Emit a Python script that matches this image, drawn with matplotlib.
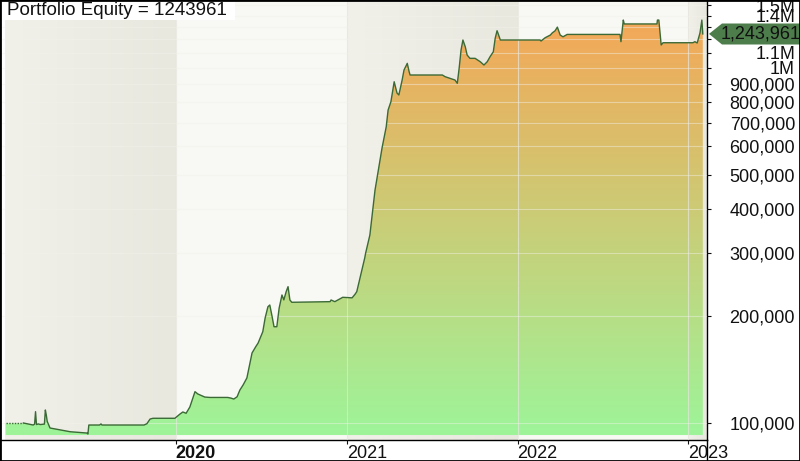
import numpy as np
import pandas as pd
import matplotlib
matplotlib.use("Agg")
import matplotlib.pyplot as plt
import matplotlib.dates as mdates
from matplotlib.colors import LinearSegmentedColormap
from matplotlib.patches import Polygon, Rectangle
from matplotlib.lines import Line2D
from matplotlib.ticker import NullLocator

plt.rcParams["font.family"] = ["Liberation Sans", "DejaVu Sans"]

# equity curve, values
dates = [
    "2019-01-02", "2019-02-09", "2019-02-19", "2019-03-02", "2019-03-05", "2019-03-07",
    "2019-03-09", "2019-03-13", "2019-03-17", "2019-03-26", "2019-03-28", "2019-03-30",
    "2019-04-01", "2019-04-07", "2019-04-18", "2019-04-29", "2019-05-20", "2019-06-10",
    "2019-06-25", "2019-06-27", "2019-06-29", "2019-07-22", "2019-07-25", "2019-07-27",
    "2019-10-25", "2019-10-31", "2019-11-07", "2019-11-13", "2019-12-30", "2020-01-10",
    "2020-01-16", "2020-01-23", "2020-01-31", "2020-02-05", "2020-02-11", "2020-02-17",
    "2020-03-03", "2020-03-14", "2020-04-21", "2020-04-28", "2020-05-04", "2020-05-11",
    "2020-05-17", "2020-05-24", "2020-06-01", "2020-06-12", "2020-06-20", "2020-06-25",
    "2020-07-05", "2020-07-10", "2020-07-16", "2020-07-20", "2020-07-25", "2020-07-29",
    "2020-08-04", "2020-08-09", "2020-08-15", "2020-08-19", "2020-08-24", "2020-08-28",
    "2020-09-01", "2020-09-05", "2020-11-26", "2020-11-28", "2020-12-06", "2020-12-23",
    "2021-01-12", "2021-01-18", "2021-01-22", "2021-01-29", "2021-02-02", "2021-02-08",
    "2021-02-10", "2021-02-19", "2021-03-02", "2021-03-11", "2021-03-17", "2021-03-26",
    "2021-03-30", "2021-04-05", "2021-04-12", "2021-04-18", "2021-04-22", "2021-04-29",
    "2021-05-03", "2021-05-10", "2021-05-14", "2021-05-16", "2021-07-24", "2021-07-30",
    "2021-08-20", "2021-08-25", "2021-08-29", "2021-09-02", "2021-09-06", "2021-09-11",
    "2021-09-15", "2021-09-21", "2021-10-02", "2021-10-13", "2021-10-21", "2021-10-28",
    "2021-11-03", "2021-11-10", "2021-11-14", "2021-11-18", "2021-11-20", "2021-11-25",
    "2022-02-18", "2022-02-20", "2022-03-01", "2022-03-12", "2022-03-16", "2022-03-22",
    "2022-03-27", "2022-04-02", "2022-04-08", "2022-04-17", "2022-04-23", "2022-08-08",
    "2022-08-10", "2022-08-15", "2022-08-17", "2022-10-26", "2022-10-27", "2022-10-30",
    "2022-11-04", "2022-11-08", "2023-01-11", "2023-01-15", "2023-01-20", "2023-01-26",
    "2023-01-30", "2023-02-01",
]
equity = [
    100000, 100000, 99400, 98700, 99300, 107600,
    99000, 99400, 99000, 99300, 108800, 105300,
    101000, 96800, 96200, 95600, 94500, 94000,
    93700, 93100, 98700, 98700, 99400, 98700,
    98700, 99500, 102600, 103100, 103100, 106000,
    107400, 106500, 110900, 116100, 122500, 120700,
    118300, 118000, 118000, 117500, 116800, 118500,
    123800, 128000, 133900, 157400, 164000, 167900,
    180700, 197400, 212400, 214800, 199100, 186600,
    186600, 210600, 229200, 222000, 234200, 241900,
    221900, 218600, 219500, 221900, 219500, 225800,
    225000, 230000, 234200, 255900, 269500, 291300,
    300800, 338000, 452000, 532000, 593900, 681800,
    759800, 801700, 912600, 848400, 837500, 922800,
    984500, 1028000, 973800, 953300, 953300, 942800,
    922800, 903400, 997500, 1121000, 1196000, 1145000,
    1085000, 1062000, 1062000, 1039000, 1017000, 1039000,
    1073000, 1108000, 1209000, 1270000, 1250000, 1196000,
    1196000, 1188000, 1214000, 1235000, 1252000, 1269000,
    1300000, 1235000, 1221000, 1240000, 1240000, 1240000,
    1183000, 1361000, 1327000, 1327000, 1361000, 1361000,
    1158000, 1175000, 1175000, 1183000, 1173000, 1252000,
    1361000, 1243961,
]

band_years = [2019, 2020, 2021, 2022, 2023]
year_ticks = ["2020-01-01", "2021-01-01", "2022-01-01", "2023-01-01"]
year_labels = ["2020", "2021", "2022", "2023"]
y_ticks = [100000, 200000, 300000, 400000, 500000, 600000, 700000, 800000, 900000,
           1000000, 1100000, 1200000, 1300000, 1400000, 1500000]
# 1.2M and 1.3M sit under the last-value marker, so they show no text
y_labels = ["100,000", "200,000", "300,000", "400,000", "500,000", "600,000", "700,000",
            "800,000", "900,000", "1M", "1.1M", "", "", "1.4M", "1.5M"]
title = "Portfolio Equity = 1243961"
last_value = 1243961
last_label = "1,243,961"

W, H = 800, 461
x_start = mdates.date2num(pd.Timestamp("2018-12-21"))
x_end = mdates.date2num(pd.Timestamp("2023-02-10"))
y_bottom, y_top = 89567, 1549800
base = 92500

fig = plt.figure(figsize=(W / 100, H / 100), dpi=100)
rect = [0, 21 / H, 707 / W, 440 / H]

# background year bands (linear helper axes underneath)
bg = fig.add_axes(rect)
bg.set_zorder(0)
bg.axis("off")
for i, yr in enumerate(band_years):
    a = max(mdates.date2num(pd.Timestamp(f"{yr}-01-01")), x_start)
    b = min(mdates.date2num(pd.Timestamp(f"{yr + 1}-01-01")), x_end)
    if i % 2 == 0:
        cm = LinearSegmentedColormap.from_list("band", ["#f1f0e9", "#e9e8df"])
        bg.imshow(np.linspace(0, 1, 64).reshape(1, -1), cmap=cm, aspect="auto",
                  extent=[a, b, 0, 1], interpolation="bilinear")
    else:
        bg.axvspan(a, b, color="#f8f8f4", lw=0)
bg.set_xlim(x_start, x_end)
bg.set_ylim(0, 1)

ax = fig.add_axes(rect)
ax.set_zorder(1)
ax.patch.set_visible(False)
ax.set_yscale("log")

xnum = mdates.date2num(pd.to_datetime(dates))

# gradient fill under the curve
fill = ax.fill_between(xnum, equity, base, facecolor="none", edgecolor="none")
cmap = LinearSegmentedColormap.from_list("eq", ["#9df59a", "#f8a454"])
im = ax.imshow(np.linspace(0, 1, 256).reshape(-1, 1), cmap=cmap, origin="lower",
               aspect="auto", extent=[0, 1, 0, 1], transform=ax.transAxes, zorder=1)
im.set_clip_path(fill.get_paths()[0], transform=ax.transData)

ax.plot(xnum[:2], equity[:2], color="#3b6a36", lw=1, ls=(0, (1, 1)), zorder=3)
ax.plot(xnum[1:], equity[1:], color="#3b6a36", lw=1, zorder=3)

ax.set_xlim(x_start, x_end)
ax.set_ylim(y_bottom, y_top)

ax.set_yticks(y_ticks)
ax.set_yticklabels(y_labels)
ax.yaxis.set_minor_locator(NullLocator())
ax.yaxis.tick_right()
ax.set_xticks(mdates.date2num(pd.to_datetime(year_ticks)))
ax.set_xticklabels(year_labels)
ax.set_axisbelow(False)
ax.grid(axis="y", color="#f2f2ec", lw=0.8, alpha=0.45)
ax.grid(axis="x", color="#e6e6de", lw=0.8, alpha=0.7)

ax.tick_params(axis="y", direction="out", length=3, pad=60.4, labelsize=13,
               colors="#111111")
ax.tick_params(axis="x", direction="out", length=3, pad=0.5, labelsize=13,
               colors="#111111")
for lab in ax.get_yticklabels():
    lab.set_horizontalalignment("right")
for lab in ax.get_xticklabels():
    lab.set_horizontalalignment("left")
ax.get_xticklabels()[0].set_fontweight("bold")

for s in ["top", "left"]:
    ax.spines[s].set_visible(False)
for s in ["bottom", "right"]:
    ax.spines[s].set_color("black")
    ax.spines[s].set_linewidth(1)

# title box
fig.add_artist(Rectangle((0, 1 - 20 / H), 235 / W, 20 / H, transform=fig.transFigure,
                         facecolor="white", edgecolor="none", zorder=5))
fig.text(7 / W, 1 - 10.5 / H, title, ha="left", va="center", fontsize=13.5,
         color="#111111", zorder=6)

# last value marker
ym = 33.9
pts = [(709, ym), (722, 23.5), (800, 23.5), (800, 44.5), (722, 44.5)]
fig.add_artist(Polygon([(px / W, 1 - py / H) for px, py in pts], closed=True,
                       transform=fig.transFigure, facecolor="#4e7d4c",
                       edgecolor="none", zorder=7))
fig.text(721 / W, 1 - ym / H, last_label, ha="left", va="center", fontsize=13,
         color="#101010", zorder=8)

fig.add_artist(Line2D([707 / W, 707 / W], [0, 21 / H], transform=fig.transFigure,
                      color="black", lw=1, zorder=9))
fig.add_artist(Rectangle((0, 0), 1, 1, transform=fig.transFigure, fill=False,
                         edgecolor="black", lw=2, zorder=20))

fig.savefig("out.png", dpi=100)
